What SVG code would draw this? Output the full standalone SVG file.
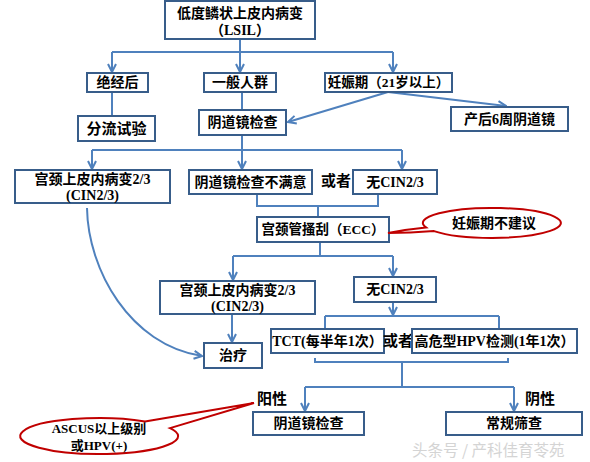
<svg xmlns="http://www.w3.org/2000/svg" width="590" height="462" viewBox="0 0 590 462">
<defs>
<style>
.box{fill:#fff;stroke:#385D8A;stroke-width:2}
.t{font-family:"Liberation Serif","Noto Sans CJK SC",serif;font-weight:bold;font-size:14px;fill:#000;text-anchor:middle;dominant-baseline:central}
.c{fill:none;stroke:#4F81BD;stroke-width:2}
.a{marker-end:url(#arr)}
.call{fill:#fff;stroke:#C00000;stroke-width:2}
.wm{font-family:"Noto Sans CJK SC",sans-serif;font-size:15.5px;fill:#d4d4d4;dominant-baseline:central}
</style>
<marker id="arr" viewBox="0 0 10 10" refX="9" refY="5" markerWidth="5" markerHeight="5" orient="auto" markerUnits="strokeWidth">
<path d="M1,1 L9,5 L1,9" fill="none" stroke="#4F81BD" stroke-width="2"/>
</marker>
</defs>
<rect width="590" height="462" fill="#fff"/>
<g id="connectors">
<path class="c" d="M240,39 V52 M112,52 H393"/>
<path class="c a" d="M112,52 V72"/>
<path class="c a" d="M240,52 V72"/>
<path class="c a" d="M393,52 V72"/>
<path class="c" d="M112,92 V116 M242,92 V110"/>
<path class="c a" d="M388,92 L288,122"/>
<path class="c a" d="M388,92 L506,106"/>
<path class="c" d="M242,135 V150 M92,150 H402"/>
<path class="c a" d="M92,150 V169"/>
<path class="c a" d="M242,150 V169"/>
<path class="c a" d="M402,150 V169"/>
<path class="c" d="M257,194 V206 H378 V194 M318,206 V217"/>
<path class="c" d="M320,242 V256 M233,256 H393"/>
<path class="c a" d="M233,256 V280"/>
<path class="c a" d="M393,256 V276"/>
<path class="c a" d="M232,314 V342"/>
<path class="c a" d="M87,208 C88,270 130,345 202,356"/>
<path class="c a" d="M393,302 V315"/>
<path class="c" d="M325,316 H499 M325,316 V329 M499,316 V329"/>
<path class="c" d="M315,358 V362 H508 V358 M402,362 V387 M305,387 H514"/>
<path class="c a" d="M305,387 V411"/>
<path class="c a" d="M514,387 V411"/>
</g>
<g id="n_lsil"><rect class="box" x="165" y="1" width="150" height="38"/><text class="t" x="240" y="13">低度鳞状上皮内病变</text><text class="t" x="240" y="30">（LSIL）</text></g>
<g id="n_jjh"><rect class="box" x="87" y="73" width="61" height="19"/><text class="t" x="117.5" y="82.5">绝经后</text></g>
<g id="n_ybrq"><rect class="box" x="204" y="73" width="72" height="19"/><text class="t" x="240" y="82.5">一般人群</text></g>
<g id="n_rsq"><rect class="box" x="325" y="73" width="127" height="19"/><text class="t" x="388.5" y="82.5" style="font-size:13.5px">妊娠期（21岁以上）</text></g>
<g id="n_flsy"><rect class="box" x="78" y="116" width="77" height="25"/><text class="t" x="116.5" y="128.5" style="font-size:15px">分流试验</text></g>
<g id="n_ydj1"><rect class="box" x="199" y="110" width="87" height="25"/><text class="t" x="242.5" y="122.5">阴道镜检查</text></g>
<g id="n_ch6"><rect class="box" x="451" y="107" width="117" height="24"/><text class="t" x="509.5" y="119">产后6周阴道镜</text></g>
<g id="n_cin1"><rect class="box" x="15" y="170" width="155" height="33"/><text class="t" x="92.5" y="179">宫颈上皮内病变2/3</text><text class="t" x="92.5" y="195">(CIN2/3)</text></g>
<g id="n_bmy"><rect class="box" x="189" y="170" width="123" height="24"/><text class="t" x="250.5" y="182">阴道镜检查不满意</text></g>
<text class="t" x="336" y="181" style="font-size:15px">或者</text>
<g id="n_wcin1"><rect class="box" x="353" y="170" width="84" height="24"/><text class="t" x="395" y="182">无CIN2/3</text></g>
<g id="n_ecc"><rect class="box" x="257" y="217" width="132" height="25"/><text class="t" x="323" y="229.5" style="font-size:13.5px">宫颈管搔刮（ECC）</text></g>
<g id="callout1"><path class="call" d="M426,227.4 Q408,229 388,233 Q410,233 434,231.1 A69,15 0 1 0 426,227.4 Z"/><text class="t" x="494" y="223">妊娠期不建议</text></g>
<g id="n_cin2"><rect class="box" x="160" y="281" width="155" height="33"/><text class="t" x="237.5" y="290">宫颈上皮内病变2/3</text><text class="t" x="237.5" y="306">(CIN2/3)</text></g>
<g id="n_wcin2"><rect class="box" x="354" y="277" width="82" height="25"/><text class="t" x="395" y="289.5">无CIN2/3</text></g>
<g id="n_zl"><rect class="box" x="204" y="343" width="58" height="25"/><text class="t" x="233" y="355.5">治疗</text></g>
<g id="n_tct"><rect class="box" x="271" y="329" width="113" height="24"/><text class="t" x="327.5" y="341">TCT(每半年1次）</text></g>
<text class="t" x="398" y="341" style="font-size:15px">或者</text>
<g id="n_hpv"><rect class="box" x="412" y="329" width="165" height="24"/><text class="t" x="494.5" y="341">高危型HPV检测(1年1次）</text></g>
<text class="t" x="272" y="399" style="font-size:15px">阳性</text>
<text class="t" x="540" y="399" style="font-size:15px">阴性</text>
<g id="n_ydj2"><rect class="box" x="253" y="412" width="111" height="23"/><text class="t" x="308.5" y="423.5">阴道镜检查</text></g>
<g id="n_cggc"><rect class="box" x="446" y="412" width="136" height="23"/><text class="t" x="514" y="423.5">常规筛查</text></g>
<g id="callout2"><path class="call" d="M145,421.4 L254,403 L170,428.1 A79,18 0 1 1 145,421.4 Z"/><text class="t" x="99" y="428" style="font-size:13px">ASCUS以上级别</text><text class="t" x="99" y="445" style="font-size:13px">或HPV(+)</text></g>
<text class="wm" x="412" y="449">头条号 / 产科佳育苓苑</text>
</svg>
